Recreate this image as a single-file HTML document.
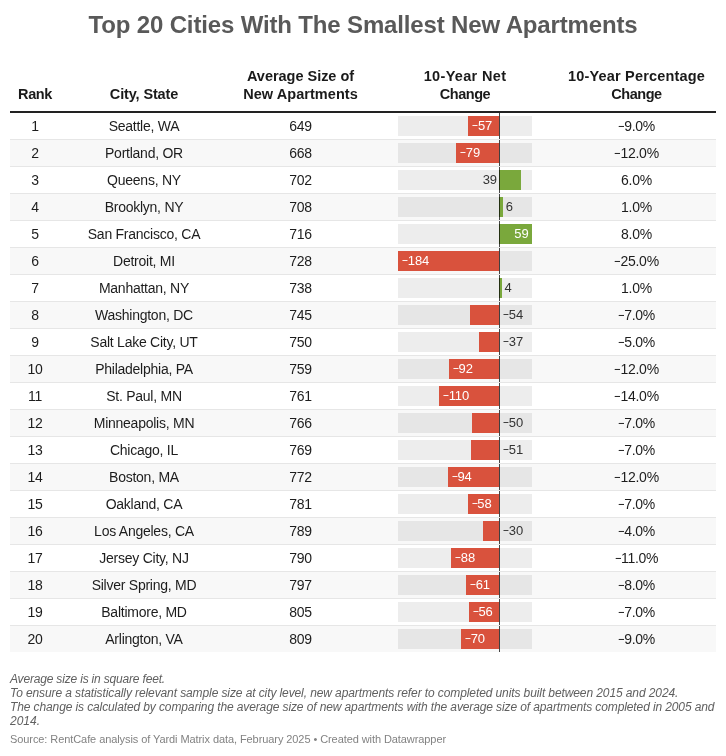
<!DOCTYPE html><html><head><meta charset="utf-8"><title>Top 20 Cities With The Smallest New Apartments</title><style>
*{margin:0;padding:0;box-sizing:border-box}
html,body{width:726px;height:756px;background:#fff;overflow:hidden}
#wrap{position:absolute;left:0;top:0;width:726px;height:756px;will-change:transform}
body{position:relative;-webkit-font-smoothing:antialiased;font-family:"Liberation Sans",sans-serif;color:#1d1d1d}
.abs{position:absolute;white-space:nowrap}
.m{display:inline-block;transform:scaleX(.78);transform-origin:0 50%;margin-right:-1.7px}
.title{position:absolute;left:0;width:726px;top:9.5px;text-align:center;font-size:24px;font-weight:bold;color:#595959;line-height:30px;letter-spacing:-0.15px}
.h{position:absolute;font-weight:bold;font-size:14.5px;line-height:18px;text-align:center;color:#1a1a1a;white-space:nowrap}
.hline{position:absolute;left:10px;width:706px;top:111px;height:2px;background:#222}
.row{position:absolute;left:10px;width:706px;height:27px;border-bottom:1px solid #e6e6e6}
.row.last{border-bottom:none;height:26px}
.row.even{background:#f8f8f8}
.c{position:absolute;top:0;height:26px;line-height:26px;font-size:14px;letter-spacing:-0.25px;text-align:center;white-space:nowrap}
.bg{position:absolute;top:3px;height:20px;background:rgba(0,0,0,0.07)}
.bar{position:absolute;top:3px;height:20px}
.neg{background:#d9523d}
.pos{background:#7aa83c}
.zl{position:absolute;top:0;height:26px;width:1px;background:rgba(0,0,0,0.72)}
.lb{position:absolute;top:0;height:26px;line-height:26px;font-size:13px;letter-spacing:-0.1px;white-space:nowrap}
.lb.w{color:#fff}
.lb.d{color:#333}
.notes{position:absolute;left:10px;top:672px;font-size:12px;line-height:14px;font-style:italic;color:#606060;white-space:nowrap}
.src{position:absolute;left:10px;top:732px;font-size:11px;line-height:14px;color:#828282;letter-spacing:-0.08px;white-space:nowrap}
</style></head><body>
<div id="wrap">
<div class="title">Top 20 Cities With The Smallest New Apartments</div>
<div class="h" style="left:10px;width:50px;top:85px;letter-spacing:-0.4px">Rank</div>
<div class="h" style="left:60px;width:168px;top:85px;letter-spacing:-0.14px">City, State</div>
<div class="h" style="left:228px;width:145px;top:67px"><span style="letter-spacing:-0.02px">Average Size of</span><br><span style="letter-spacing:.05px">New Apartments</span></div>
<div class="h" style="left:373px;width:184px;top:67px"><span style="letter-spacing:.33px">10-Year Net</span><br><span style="letter-spacing:-0.45px">Change</span></div>
<div class="h" style="left:557px;width:159px;top:67px"><span style="letter-spacing:.19px">10-Year Percentage</span><br><span style="letter-spacing:-0.45px">Change</span></div>
<div class="hline"></div>
<div class="row" style="top:113px"><div class="c" style="left:0;width:50px">1</div><div class="c" style="left:50px;width:168px">Seattle, WA</div><div class="c" style="left:218px;width:145px">649</div><div class="bg" style="left:388px;width:134px"></div><div class="bar neg" style="left:458.07px;width:30.93px"></div><div class="zl" style="left:489px"></div><div class="lb w" style="left:462.07px"><span class="m">−</span>57</div><div class="c" style="left:547px;width:159px"><span class="m">−</span>9.0%</div></div>
<div class="row even" style="top:140px"><div class="c" style="left:0;width:50px">2</div><div class="c" style="left:50px;width:168px">Portland, OR</div><div class="c" style="left:218px;width:145px">668</div><div class="bg" style="left:388px;width:134px"></div><div class="bar neg" style="left:445.94px;width:43.06px"></div><div class="zl" style="left:489px"></div><div class="lb w" style="left:449.94px"><span class="m">−</span>79</div><div class="c" style="left:547px;width:159px"><span class="m">−</span>12.0%</div></div>
<div class="row" style="top:167px"><div class="c" style="left:0;width:50px">3</div><div class="c" style="left:50px;width:168px">Queens, NY</div><div class="c" style="left:218px;width:145px">702</div><div class="bg" style="left:388px;width:134px"></div><div class="bar pos" style="left:489px;width:22.01px"></div><div class="zl" style="left:489px"></div><div class="lb d" style="right:219px">39</div><div class="c" style="left:547px;width:159px">6.0%</div></div>
<div class="row even" style="top:194px"><div class="c" style="left:0;width:50px">4</div><div class="c" style="left:50px;width:168px">Brooklyn, NY</div><div class="c" style="left:218px;width:145px">708</div><div class="bg" style="left:388px;width:134px"></div><div class="bar pos" style="left:489px;width:3.81px"></div><div class="zl" style="left:489px"></div><div class="lb d" style="left:495.71px">6</div><div class="c" style="left:547px;width:159px">1.0%</div></div>
<div class="row" style="top:221px"><div class="c" style="left:0;width:50px">5</div><div class="c" style="left:50px;width:168px">San Francisco, CA</div><div class="c" style="left:218px;width:145px">716</div><div class="bg" style="left:388px;width:134px"></div><div class="bar pos" style="left:489px;width:33.03px"></div><div class="zl" style="left:489px"></div><div class="lb w" style="right:187.47px">59</div><div class="c" style="left:547px;width:159px">8.0%</div></div>
<div class="row even" style="top:248px"><div class="c" style="left:0;width:50px">6</div><div class="c" style="left:50px;width:168px">Detroit, MI</div><div class="c" style="left:218px;width:145px">728</div><div class="bg" style="left:388px;width:134px"></div><div class="bar neg" style="left:388.03px;width:100.97px"></div><div class="zl" style="left:489px"></div><div class="lb w" style="left:392.03px"><span class="m">−</span>184</div><div class="c" style="left:547px;width:159px"><span class="m">−</span>25.0%</div></div>
<div class="row" style="top:275px"><div class="c" style="left:0;width:50px">7</div><div class="c" style="left:50px;width:168px">Manhattan, NY</div><div class="c" style="left:218px;width:145px">738</div><div class="bg" style="left:388px;width:134px"></div><div class="bar pos" style="left:489px;width:2.71px"></div><div class="zl" style="left:489px"></div><div class="lb d" style="left:494.61px">4</div><div class="c" style="left:547px;width:159px">1.0%</div></div>
<div class="row even" style="top:302px"><div class="c" style="left:0;width:50px">8</div><div class="c" style="left:50px;width:168px">Washington, DC</div><div class="c" style="left:218px;width:145px">745</div><div class="bg" style="left:388px;width:134px"></div><div class="bar neg" style="left:459.72px;width:29.28px"></div><div class="zl" style="left:489px"></div><div class="lb d" style="left:493px"><span class="m">−</span>54</div><div class="c" style="left:547px;width:159px"><span class="m">−</span>7.0%</div></div>
<div class="row" style="top:329px"><div class="c" style="left:0;width:50px">9</div><div class="c" style="left:50px;width:168px">Salt Lake City, UT</div><div class="c" style="left:218px;width:145px">750</div><div class="bg" style="left:388px;width:134px"></div><div class="bar neg" style="left:469.10px;width:19.90px"></div><div class="zl" style="left:489px"></div><div class="lb d" style="left:493px"><span class="m">−</span>37</div><div class="c" style="left:547px;width:159px"><span class="m">−</span>5.0%</div></div>
<div class="row even" style="top:356px"><div class="c" style="left:0;width:50px">10</div><div class="c" style="left:50px;width:168px">Philadelphia, PA</div><div class="c" style="left:218px;width:145px">759</div><div class="bg" style="left:388px;width:134px"></div><div class="bar neg" style="left:438.77px;width:50.23px"></div><div class="zl" style="left:489px"></div><div class="lb w" style="left:442.77px"><span class="m">−</span>92</div><div class="c" style="left:547px;width:159px"><span class="m">−</span>12.0%</div></div>
<div class="row" style="top:383px"><div class="c" style="left:0;width:50px">11</div><div class="c" style="left:50px;width:168px">St. Paul, MN</div><div class="c" style="left:218px;width:145px">761</div><div class="bg" style="left:388px;width:134px"></div><div class="bar neg" style="left:428.84px;width:60.16px"></div><div class="zl" style="left:489px"></div><div class="lb w" style="left:432.84px"><span class="m">−</span>110</div><div class="c" style="left:547px;width:159px"><span class="m">−</span>14.0%</div></div>
<div class="row even" style="top:410px"><div class="c" style="left:0;width:50px">12</div><div class="c" style="left:50px;width:168px">Minneapolis, MN</div><div class="c" style="left:218px;width:145px">766</div><div class="bg" style="left:388px;width:134px"></div><div class="bar neg" style="left:461.93px;width:27.07px"></div><div class="zl" style="left:489px"></div><div class="lb d" style="left:493px"><span class="m">−</span>50</div><div class="c" style="left:547px;width:159px"><span class="m">−</span>7.0%</div></div>
<div class="row" style="top:437px"><div class="c" style="left:0;width:50px">13</div><div class="c" style="left:50px;width:168px">Chicago, IL</div><div class="c" style="left:218px;width:145px">769</div><div class="bg" style="left:388px;width:134px"></div><div class="bar neg" style="left:461.38px;width:27.62px"></div><div class="zl" style="left:489px"></div><div class="lb d" style="left:493px"><span class="m">−</span>51</div><div class="c" style="left:547px;width:159px"><span class="m">−</span>7.0%</div></div>
<div class="row even" style="top:464px"><div class="c" style="left:0;width:50px">14</div><div class="c" style="left:50px;width:168px">Boston, MA</div><div class="c" style="left:218px;width:145px">772</div><div class="bg" style="left:388px;width:134px"></div><div class="bar neg" style="left:437.66px;width:51.34px"></div><div class="zl" style="left:489px"></div><div class="lb w" style="left:441.66px"><span class="m">−</span>94</div><div class="c" style="left:547px;width:159px"><span class="m">−</span>12.0%</div></div>
<div class="row" style="top:491px"><div class="c" style="left:0;width:50px">15</div><div class="c" style="left:50px;width:168px">Oakland, CA</div><div class="c" style="left:218px;width:145px">781</div><div class="bg" style="left:388px;width:134px"></div><div class="bar neg" style="left:457.52px;width:31.48px"></div><div class="zl" style="left:489px"></div><div class="lb w" style="left:461.52px"><span class="m">−</span>58</div><div class="c" style="left:547px;width:159px"><span class="m">−</span>7.0%</div></div>
<div class="row even" style="top:518px"><div class="c" style="left:0;width:50px">16</div><div class="c" style="left:50px;width:168px">Los Angeles, CA</div><div class="c" style="left:218px;width:145px">789</div><div class="bg" style="left:388px;width:134px"></div><div class="bar neg" style="left:472.96px;width:16.04px"></div><div class="zl" style="left:489px"></div><div class="lb d" style="left:493px"><span class="m">−</span>30</div><div class="c" style="left:547px;width:159px"><span class="m">−</span>4.0%</div></div>
<div class="row" style="top:545px"><div class="c" style="left:0;width:50px">17</div><div class="c" style="left:50px;width:168px">Jersey City, NJ</div><div class="c" style="left:218px;width:145px">790</div><div class="bg" style="left:388px;width:134px"></div><div class="bar neg" style="left:440.97px;width:48.03px"></div><div class="zl" style="left:489px"></div><div class="lb w" style="left:444.97px"><span class="m">−</span>88</div><div class="c" style="left:547px;width:159px"><span class="m">−</span>11.0%</div></div>
<div class="row even" style="top:572px"><div class="c" style="left:0;width:50px">18</div><div class="c" style="left:50px;width:168px">Silver Spring, MD</div><div class="c" style="left:218px;width:145px">797</div><div class="bg" style="left:388px;width:134px"></div><div class="bar neg" style="left:455.86px;width:33.14px"></div><div class="zl" style="left:489px"></div><div class="lb w" style="left:459.86px"><span class="m">−</span>61</div><div class="c" style="left:547px;width:159px"><span class="m">−</span>8.0%</div></div>
<div class="row" style="top:599px"><div class="c" style="left:0;width:50px">19</div><div class="c" style="left:50px;width:168px">Baltimore, MD</div><div class="c" style="left:218px;width:145px">805</div><div class="bg" style="left:388px;width:134px"></div><div class="bar neg" style="left:458.62px;width:30.38px"></div><div class="zl" style="left:489px"></div><div class="lb w" style="left:462.62px"><span class="m">−</span>56</div><div class="c" style="left:547px;width:159px"><span class="m">−</span>7.0%</div></div>
<div class="row even last" style="top:626px"><div class="c" style="left:0;width:50px">20</div><div class="c" style="left:50px;width:168px">Arlington, VA</div><div class="c" style="left:218px;width:145px">809</div><div class="bg" style="left:388px;width:134px"></div><div class="bar neg" style="left:450.90px;width:38.10px"></div><div class="zl" style="left:489px"></div><div class="lb w" style="left:454.90px"><span class="m">−</span>70</div><div class="c" style="left:547px;width:159px"><span class="m">−</span>9.0%</div></div>
<div class="notes"><span style="letter-spacing:-0.18px">Average size is in square feet.</span><br><span style="letter-spacing:-0.1px">To ensure a statistically relevant sample size at city level, new apartments refer to completed units built between 2015 and 2024.</span><br><span style="letter-spacing:-0.113px">The change is calculated by comparing the average size of new apartments with the average size of apartments completed in 2005 and</span><br>2014.</div>
<div class="src">Source: RentCafe analysis of Yardi Matrix data, February 2025 • Created with Datawrapper</div>
</div></body></html>
